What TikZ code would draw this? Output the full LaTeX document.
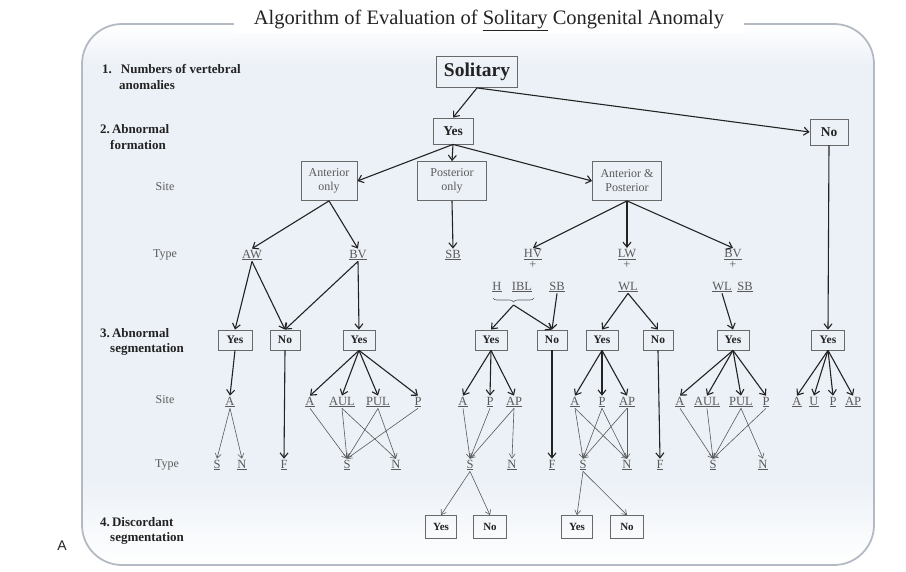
\documentclass[tikz,border=0pt]{standalone}
\usepackage{fontspec}
\setmainfont{Liberation Serif}
\newfontfamily\sansA{Liberation Sans}
\usetikzlibrary{arrows.meta,decorations.pathreplacing}
\definecolor{bgblue}{RGB}{236,241,247}
\definecolor{framegray}{RGB}{180,186,195}
\definecolor{boxgray}{RGB}{105,105,105}
\definecolor{inkdark}{RGB}{35,35,35}
\definecolor{labgray}{RGB}{90,90,90}
\begin{document}
\begin{tikzpicture}[x=1pt,y=-1pt,
  box/.style={draw=boxgray, line width=0.8pt, inner sep=1pt, text=inkdark,
    font=\fontsize{11.5}{12}\selectfont\bfseries, minimum height=20pt, minimum width=32pt},
  topbox/.style={box, font=\fontsize{13.5}{14}\selectfont\bfseries, minimum height=26pt, minimum width=40pt},
  sitebox/.style={draw=boxgray, line width=0.8pt, inner sep=1pt, text=labgray, align=center,
    font=\fontsize{12}{14}\selectfont, minimum height=39pt},
  dbox/.style={box, font=\fontsize{11}{12}\selectfont\bfseries, minimum height=23pt, minimum width=31pt},
  lab/.style={inner sep=1pt, text=labgray, font=\fontsize{12.5}{11.5}\selectfont, align=center},
  side/.style={anchor=west, inner sep=0pt, text=inkdark, align=left,
    font=\fontsize{13}{15.5}\selectfont\bfseries},
  sidelab/.style={inner sep=0pt, text=labgray, font=\fontsize{12}{12}\selectfont},
  bigarrow/.style={-{Straight Barb[length=5pt,width=8pt]}, line width=1.1pt, draw=inkdark},
  smallarrow/.style={-{Straight Barb[length=4.5pt,width=6pt]}, line width=0.6pt, draw=labgray}
]
\useasboundingbox (0,0) rectangle (906,571);

% background frame
\begin{scope}
  \clip[rounded corners=40pt] (82,24) rectangle (874,565);
  \fill[bgblue] (82,24) rectangle (874,565);
  \shade[top color=white, bottom color=bgblue] (82,24) rectangle (874,66);
  \shade[top color=bgblue, bottom color=white] (82,480) rectangle (874,565);
\end{scope}
\draw[framegray, line width=1.8pt, rounded corners=40pt] (82,24) rectangle (874,565);

% title
\node[fill=white, inner xsep=20pt, inner ysep=3pt, text=inkdark,
  font=\fontsize{20.5}{22}\selectfont] (title) at (489,20)
  {Algorithm of Evaluation of \underline{Solitary} Congenital Anomaly};
\node[font=\sansA\fontsize{14}{14}\selectfont, text=inkdark] (panel) at (62,546) {A};

% left labels
\node[side] (l1) at (102,77) {1.\hspace{9pt}Numbers of vertebral\\\hspace*{17pt}anomalies};
\node[side] (l2) at (100,137) {2.\,Abnormal\\\hspace*{10pt}formation};
\node[sidelab] (site1) at (165,187) {Site};
\node[sidelab] (type1) at (165,255) {Type};
\node[side] (l3) at (100,342) {3.\,Abnormal\\\hspace*{10pt}segmentation};
\node[sidelab] (site2) at (165,400) {Site};
\node[sidelab] (type2) at (167,465) {Type};
\node[side] (l4) at (100,531) {4.\,Discordant\\\hspace*{10pt}segmentation};

% top level
\node[box, font=\fontsize{19.5}{20}\selectfont\bfseries, minimum width=81pt, minimum height=31pt] (sol) at (477,72) {Solitary};
\node[topbox] (yes0) at (453,131) {Yes};
\node[topbox, minimum width=38pt] (no0) at (829,132) {No};
\node[sitebox, minimum width=56pt] (antonly) at (329,181) {Anterior\\only};
\node[sitebox, minimum width=69pt] (postonly) at (452,181) {Posterior\\only};
\node[sitebox, minimum width=69pt] (antpost) at (627,181) {Anterior \&\\Posterior};

% type row 1
\node[lab] (aw) at (252,255) {\underline{AW}};
\node[lab] (bv1) at (358,255) {\underline{BV}};
\node[lab] (sb1) at (453,255) {\underline{SB}};
\node[lab] (hv) at (533,259) {\underline{HV}\\+};
\node[lab] (lw) at (627,259) {\underline{LW}\\+};
\node[lab] (bv2) at (733,259) {\underline{BV}\\+};
\node[lab] (h) at (497,287) {\underline{H}};
\node[lab] (ibl) at (522,287) {\underline{IBL}};
\node[lab] (sb2) at (557,287) {\underline{SB}};
\node[lab] (wl1) at (628,287) {\underline{WL}};
\node[lab] (wl2) at (722,287) {\underline{WL}};
\node[lab] (sb3) at (745,287) {\underline{SB}};
\draw[labgray, line width=0.6pt, decorate, decoration={brace, mirror, amplitude=4pt}]
  (493,298) -- (534,298);
\coordinate (bracetip) at (513.5,305);

% segmentation boxes
\node[box, minimum width=34pt] (y1) at (235,340) {Yes};
\node[box, minimum width=30pt] (n1) at (285,340) {No};
\node[box, minimum width=32pt] (y2) at (359,340) {Yes};
\node[box, minimum width=32pt] (y3) at (491,340) {Yes};
\node[box, minimum width=30pt] (n2) at (552,340) {No};
\node[box, minimum width=32pt] (y4) at (602,340) {Yes};
\node[box, minimum width=30pt] (n3) at (658,340) {No};
\node[box, minimum width=32pt] (y5) at (733,340) {Yes};
\node[box, minimum width=33pt] (y6) at (828,340) {Yes};

% site row 2
\node[lab] (s1a) at (230,402) {\underline{A}};
\node[lab] (s2a) at (310,402) {\underline{A}};
\node[lab] (s2aul) at (342,402) {\underline{AUL}};
\node[lab] (s2pul) at (378,402) {\underline{PUL}};
\node[lab] (s2p) at (418,402) {\underline{P}};
\node[lab] (s3a) at (463,402) {\underline{A}};
\node[lab] (s3p) at (490,402) {\underline{P}};
\node[lab] (s3ap) at (514,402) {\underline{AP}};
\node[lab] (s4a) at (575,402) {\underline{A}};
\node[lab] (s4p) at (602,402) {\underline{P}};
\node[lab] (s4ap) at (627,402) {\underline{AP}};
\node[lab] (s5a) at (680,402) {\underline{A}};
\node[lab] (s5aul) at (707,402) {\underline{AUL}};
\node[lab] (s5pul) at (741,402) {\underline{PUL}};
\node[lab] (s5p) at (766,402) {\underline{P}};
\node[lab] (s6a) at (797,402) {\underline{A}};
\node[lab] (s6u) at (814,402) {\underline{U}};
\node[lab] (s6p) at (833,402) {\underline{P}};
\node[lab] (s6ap) at (853,402) {\underline{AP}};

% type row 2
\node[lab] (t1s) at (217,465) {\underline{S}};
\node[lab] (t1n) at (242,465) {\underline{N}};
\node[lab] (t1f) at (284,465) {\underline{F}};
\node[lab] (t2s) at (347,465) {\underline{S}};
\node[lab] (t2n) at (396,465) {\underline{N}};
\node[lab] (t3s) at (470,465) {\underline{S}};
\node[lab] (t3n) at (512,465) {\underline{N}};
\node[lab] (t3f) at (552,465) {\underline{F}};
\node[lab] (t4s) at (583,465) {\underline{S}};
\node[lab] (t4n) at (627,465) {\underline{N}};
\node[lab] (t4f) at (660,465) {\underline{F}};
\node[lab] (t5s) at (713,465) {\underline{S}};
\node[lab] (t5n) at (763,465) {\underline{N}};

% discordant boxes
\node[dbox] (d1y) at (441,527) {Yes};
\node[dbox, minimum width=33pt] (d1n) at (490,527) {No};
\node[dbox] (d2y) at (577,527) {Yes};
\node[dbox, minimum width=33pt] (d2n) at (627,527) {No};

% thick connectors
\draw[bigarrow] (sol.south) -- (yes0.north);
\draw[bigarrow] (sol.south) -- (no0.west);
\draw[bigarrow] (yes0.south) -- (antonly.east);
\draw[bigarrow] (yes0.south) -- (postonly.north);
\draw[bigarrow] (yes0.south) -- (antpost.west);
\draw[bigarrow] (antonly.south) -- (aw.north);
\draw[bigarrow] (antonly.south) -- (bv1.north);
\draw[bigarrow] (postonly.south) -- (sb1.north);
\draw[bigarrow] (antpost.south) -- (hv.north);
\draw[bigarrow] (antpost.south) -- (lw.north);
\draw[bigarrow] (antpost.south) -- (bv2.north);
\draw[bigarrow] (aw.south) -- (y1.north);
\draw[bigarrow] (aw.south) -- (n1.north);
\draw[bigarrow] (bv1.south) -- (n1.north);
\draw[bigarrow] (bv1.south) -- (y2.north);
\draw[bigarrow] (bracetip) -- (y3.north);
\draw[bigarrow] (bracetip) -- (n2.north);
\draw[bigarrow] (sb2.south) -- (n2.north);
\draw[bigarrow] (wl1.south) -- (y4.north);
\draw[bigarrow] (wl1.south) -- (n3.north);
\draw[bigarrow] (wl2.south) -- (y5.north);
\draw[bigarrow] (no0.south) -- (y6.north);

\draw[bigarrow] (y1.south) -- (s1a.north);
\draw[bigarrow] (n1.south) -- (t1f.north);
\foreach \t in {s2a,s2aul,s2pul,s2p} \draw[bigarrow] (y2.south) -- (\t.north);
\foreach \t in {s3a,s3p,s3ap} \draw[bigarrow] (y3.south) -- (\t.north);
\draw[bigarrow] (n2.south) -- (t3f.north);
\foreach \t in {s4a,s4p,s4ap} \draw[bigarrow] (y4.south) -- (\t.north);
\draw[bigarrow] (n3.south) -- (t4f.north);
\foreach \t in {s5a,s5aul,s5pul,s5p} \draw[bigarrow] (y5.south) -- (\t.north);
\foreach \t in {s6a,s6u,s6p,s6ap} \draw[bigarrow] (y6.south) -- (\t.north);

% thin connectors
\draw[smallarrow] (s1a.south) -- (t1s.north);
\draw[smallarrow] (s1a.south) -- (t1n.north);
\draw[smallarrow] (s2a.south) -- (t2s.north);
\draw[smallarrow] (s2aul.south) -- (t2s.north);
\draw[smallarrow] (s2aul.south) -- (t2n.north);
\draw[smallarrow] (s2pul.south) -- (t2s.north);
\draw[smallarrow] (s2pul.south) -- (t2n.north);
\draw[smallarrow] (s2p.south) -- (t2s.north);
\draw[smallarrow] (s3a.south) -- (t3s.north);
\draw[smallarrow] (s3p.south) -- (t3s.north);
\draw[smallarrow] (s3ap.south) -- (t3s.north);
\draw[smallarrow] (s3ap.south) -- (t3n.north);
\foreach \f in {s4a,s4p,s4ap} {
  \draw[smallarrow] (\f.south) -- (t4s.north);
  \draw[smallarrow] (\f.south) -- (t4n.north);
}
\draw[smallarrow] (s5a.south) -- (t5s.north);
\draw[smallarrow] (s5aul.south) -- (t5s.north);
\draw[smallarrow] (s5pul.south) -- (t5s.north);
\draw[smallarrow] (s5pul.south) -- (t5n.north);
\draw[smallarrow] (s5p.south) -- (t5s.north);
\draw[smallarrow] (t3s.south) -- (d1y.north);
\draw[smallarrow] (t3s.south) -- (d1n.north);
\draw[smallarrow] (t4s.south) -- (d2y.north);
\draw[smallarrow] (t4s.south) -- (d2n.north);
\end{tikzpicture}
\end{document}
